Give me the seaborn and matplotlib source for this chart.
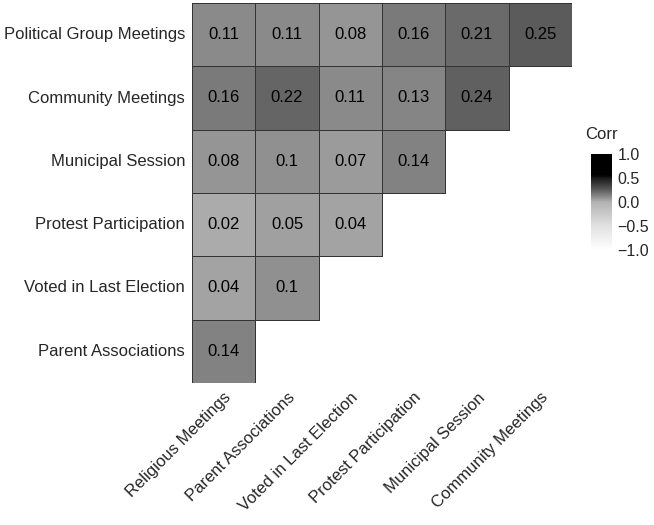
import numpy as np
import pandas as pd
import seaborn as sns
import matplotlib.pyplot as plt
from matplotlib.colors import LinearSegmentedColormap

# rows top -> bottom, columns left -> right (lower triangle layout)
row_labels = ['Political Group Meetings', 'Community Meetings', 'Municipal Session',
              'Protest Participation', 'Voted in Last Election', 'Parent Associations']
col_labels = ['Religious Meetings', 'Parent Associations', 'Voted in Last Election',
              'Protest Participation', 'Municipal Session', 'Community Meetings']

political = [0.11, 0.11, 0.08, 0.16, 0.21, 0.25]
community = [0.16, 0.22, 0.11, 0.13, 0.24]
municipal = [0.08, 0.1, 0.07, 0.14]
protest = [0.02, 0.05, 0.04]
voted = [0.04, 0.1]
parent = [0.14]

rows = [political, community, municipal, protest, voted, parent]
mat = np.full((6, 6), np.nan)
for i, r in enumerate(rows):
    mat[i, :len(r)] = r
df = pd.DataFrame(mat, index=row_labels, columns=col_labels)
mask = df.isna()

stops = [(0.0, 255), (0.25, 225), (0.5, 178), (0.55, 143), (0.625, 92),
         (0.75, 25), (0.78, 0), (1.0, 0)]
cmap = LinearSegmentedColormap.from_list(
    'corr', [(p, (g / 255, g / 255, g / 255)) for p, g in stops])

sns.set_style('white')
plt.rcParams['font.family'] = ['Liberation Sans', 'DejaVu Sans']

fig = plt.figure(figsize=(6.54, 5.25), dpi=100)
ax = fig.add_axes([192 / 654, 1 - 383 / 525, 380 / 654, 380 / 525])
cax = fig.add_axes([591 / 654, 1 - 250 / 525, 21 / 654, 96 / 525])

sns.heatmap(df, mask=mask, cmap=cmap, vmin=-1, vmax=1, annot=True, fmt='g',
            annot_kws={'size': 12, 'color': 'black'},
            linewidths=0.5, linecolor='#333333', square=False,
            ax=ax, cbar_ax=cax)

# only outline the cells that are drawn
mesh = ax.collections[0]
edge = [(0.2, 0.2, 0.2, 1) if not m else (0, 0, 0, 0) for m in mask.values.ravel()]
mesh.set_edgecolors(edge)

ax.tick_params(length=0, labelsize=12, pad=5)
ax.set_xticklabels(col_labels, rotation=45, ha='right', rotation_mode='anchor')
ax.set_yticklabels(row_labels, rotation=0)
ax.set_xlabel('')
ax.set_ylabel('')

cax.set_yticks([1.0, 0.5, 0.0, -0.5, -1.0])
cax.set_yticklabels(['1.0', '0.5', '0.0', '\u22120.5', '\u22121.0'])
cax.tick_params(axis='y', direction='in', length=3, color='white', labelsize=11.5, pad=4,
                left=True, right=True)
for s in cax.spines.values():
    s.set_visible(False)
cax.text(-0.3, 1.12, 'Corr', transform=cax.transAxes, ha='left', va='bottom', fontsize=12)

fig.savefig('out.png', dpi=100)
